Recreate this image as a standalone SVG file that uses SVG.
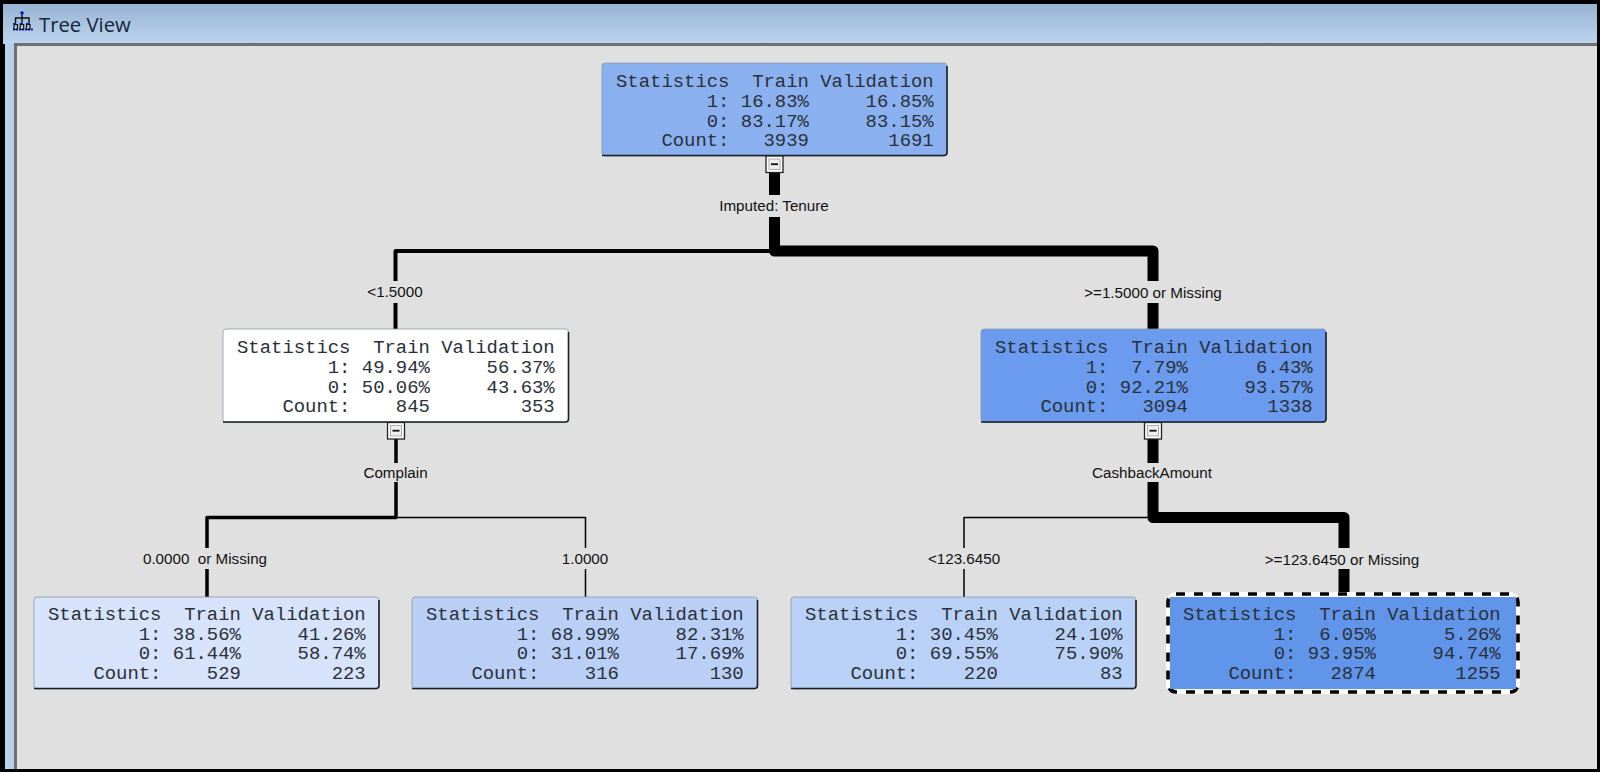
<svg xmlns="http://www.w3.org/2000/svg" width="1600" height="772" viewBox="0 0 1600 772">
<defs>
<linearGradient id="title" x1="0" y1="0" x2="0" y2="1"><stop offset="0" stop-color="#98b4d2"/><stop offset="1" stop-color="#bcd5ee"/></linearGradient>
<g id="toggle"><rect x="-8.500" y="0" width="17" height="16.500" fill="#fff" stroke="#222" stroke-width="1.3"/><rect x="-5.500" y="3" width="11" height="10.500" fill="#eee" stroke="#999" stroke-width="0.8"/><rect x="-3.500" y="7.300" width="7" height="1.800" fill="#111"/></g>
</defs>
<style>
.box{stroke:#8b97a8;stroke-width:0.8}
.edge{fill:none;stroke:#000;stroke-linejoin:round;stroke-linecap:butt}
.w11{stroke-width:11}.w4{stroke-width:4}.w3{stroke-width:3.500}.w1{stroke-width:1.500}
.shade{fill:none;stroke:#1b2026;stroke-width:1.600}
.st{font-family:"Liberation Mono",monospace;font-size:18.92px;fill:#2a3038;white-space:pre}
.lb{font-family:"Liberation Sans",Arial,sans-serif;font-size:15.2px;fill:#111;text-anchor:middle}
.ttl{font-family:"Open Sans","Noto Sans",sans-serif;font-size:20.3px;fill:#14243a}
</style>
<rect width="1600" height="772" fill="#000"/>
<rect x="3" y="4" width="1594" height="40" fill="url(#title)"/>
<rect x="5" y="44" width="10" height="725" fill="#b9d2ec"/>
<rect x="14" y="43" width="1583" height="726" fill="#6e7074"/>
<rect x="17" y="46" width="1580" height="723" fill="#e0e0e0"/>
<g id="title-icon" fill="none" stroke-width="1.400">
<path d="M22 13V18M15.500 24V18H29V24M22 18V24" stroke="#111"/>
<path d="M20 13H24M22 11V15" stroke="#0a1ee0" stroke-width="1.600"/>
<path d="M13 29.500H33" stroke="#0a1ee0" stroke-width="2" stroke-dasharray="2 1"/>
<path d="M13 23.500h18" stroke="#0a1ee0" stroke-width="1.200" stroke-dasharray="3 3.500"/>
<path d="M14 24.500h3.500v5H14zM20.200 24.500h3.500v5h-3.500zM26.500 24.500h3.500v5h-3.500z" stroke="#111" stroke-width="1.200"/>
</g>
<text class="ttl" x="39" y="32">Tree View</text>

<g id="connectors">
<path class="edge w11" d="M774.500 172V195M774.500 217V251H1153V281M1153 303V330"/>
<path class="edge w4" d="M774.500 251H395.500V281M395.500 303V330"/>
<path class="edge w3" d="M396 438V463M396 482V517.500H207V548M207 569V597"/>
<path class="edge w1" d="M396 517.500H585.500V548M585.500 569V597"/>
<path class="edge w11" d="M1153 438V463M1153 482V517.500H1344V548M1344 569V597"/>
<path class="edge w1" d="M1153 517.500H964V548M964 569V597"/>
<text class="lb" x="774" y="211">Imputed: Tenure</text>
<text class="lb" x="395" y="297">&lt;1.5000</text>
<text class="lb" x="1153" y="298">&gt;=1.5000 or Missing</text>
<text class="lb" x="395.500" y="478">Complain</text>
<text class="lb" x="1152" y="478">CashbackAmount</text>
<text class="lb" x="205" y="564" xml:space="preserve">0.0000  or Missing</text>
<text class="lb" x="585" y="564">1.0000</text>
<text class="lb" x="964" y="564">&lt;123.6450</text>
<text class="lb" x="1342" y="565">&gt;=123.6450 or Missing</text>
</g>

<g id="node-root" transform="translate(602 63)">
<rect class="box" width="345" height="93" rx="3" fill="#8ab0f0"/>
<path class="shade" d="M0 92.500H342a3 3 0 0 0 3-3V3"/>
<text class="st"><tspan x="14" y="24">Statistics  Train Validation</tspan><tspan x="14" y="44">        1: 16.83%     16.85%</tspan><tspan x="14" y="63.500">        0: 83.17%     83.15%</tspan><tspan x="14" y="83">    Count:   3939       1691</tspan></text>
<use href="#toggle" x="172.500" y="93"/>
</g>
<g id="node-tenure-low" transform="translate(223 329)">
<rect class="box" width="345.500" height="93.500" rx="3" fill="#fff"/>
<path class="shade" d="M0 93H342.500a3 3 0 0 0 3-3V3"/>
<text class="st"><tspan x="14" y="24">Statistics  Train Validation</tspan><tspan x="14" y="44">        1: 49.94%     56.37%</tspan><tspan x="14" y="63.500">        0: 50.06%     43.63%</tspan><tspan x="14" y="83">    Count:    845        353</tspan></text>
<use href="#toggle" x="173" y="93.500"/>
</g>
<g id="node-tenure-high" transform="translate(981 329)">
<rect class="box" width="345" height="93.500" rx="3" fill="#6a9bee"/>
<path class="shade" d="M0 93H342a3 3 0 0 0 3-3V3"/>
<text class="st"><tspan x="14" y="24">Statistics  Train Validation</tspan><tspan x="14" y="44">        1:  7.79%      6.43%</tspan><tspan x="14" y="63.500">        0: 92.21%     93.57%</tspan><tspan x="14" y="83">    Count:   3094       1338</tspan></text>
<use href="#toggle" x="172" y="93.500"/>
</g>
<g id="node-complain-0" transform="translate(34 597)">
<rect class="box" width="345" height="92" rx="3" fill="#d6e3fb"/>
<path class="shade" d="M0 91.500H342a3 3 0 0 0 3-3V3"/>
<text class="st"><tspan x="14" y="22.500">Statistics  Train Validation</tspan><tspan x="14" y="42.500">        1: 38.56%     41.26%</tspan><tspan x="14" y="62">        0: 61.44%     58.74%</tspan><tspan x="14" y="81.500">    Count:    529        223</tspan></text>
</g>
<g id="node-complain-1" transform="translate(412 597)">
<rect class="box" width="345.500" height="92" rx="3" fill="#b9cff6"/>
<path class="shade" d="M0 91.500H342.500a3 3 0 0 0 3-3V3"/>
<text class="st"><tspan x="14" y="22.500">Statistics  Train Validation</tspan><tspan x="14" y="42.500">        1: 68.99%     82.31%</tspan><tspan x="14" y="62">        0: 31.01%     17.69%</tspan><tspan x="14" y="81.500">    Count:    316        130</tspan></text>
</g>
<g id="node-cashback-low" transform="translate(791 597)">
<rect class="box" width="345" height="92" rx="3" fill="#b9d1f6"/>
<path class="shade" d="M0 91.500H342a3 3 0 0 0 3-3V3"/>
<text class="st"><tspan x="14" y="22.500">Statistics  Train Validation</tspan><tspan x="14" y="42.500">        1: 30.45%     24.10%</tspan><tspan x="14" y="62">        0: 69.55%     75.90%</tspan><tspan x="14" y="81.500">    Count:    220         83</tspan></text>
</g>
<g id="node-cashback-high" transform="translate(1169 597)">
<rect x="-1" y="-3" width="350" height="98" rx="8" fill="#fff" stroke="#fff" stroke-width="4"/>
<rect x="-1" y="-3" width="350" height="98" rx="8" fill="none" stroke="#000" stroke-width="3.600" stroke-dasharray="9 9"/>
<rect x="1" width="346" height="92" fill="#6195ea"/>
<text class="st"><tspan x="14" y="22.500">Statistics  Train Validation</tspan><tspan x="14" y="42.500">        1:  6.05%      5.26%</tspan><tspan x="14" y="62">        0: 93.95%     94.74%</tspan><tspan x="14" y="81.500">    Count:   2874       1255</tspan></text>
</g>
</svg>
